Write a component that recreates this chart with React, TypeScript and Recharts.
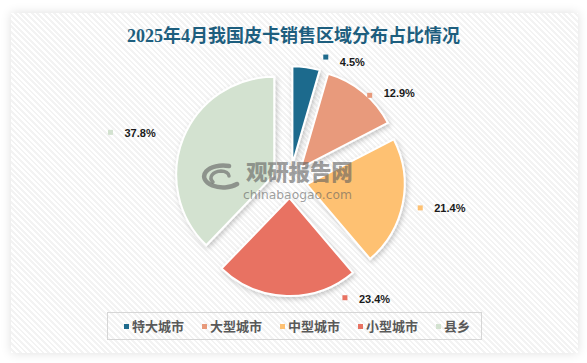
import React from "react";
import { PieChart, Pie, Cell, Sector, Legend, Tooltip } from "recharts";

const categories = ["特大城市", "大型城市", "中型城市", "小型城市", "县乡"];
const shares = [4.5, 12.9, 21.4, 23.4, 37.8];
const colors = ["#1f6b8d", "#e89a7b", "#fec172", "#e87262", "#d3e2d0"];
const TITLE = "2025年4月我国皮卡销售区域分布占比情况";
const WATERMARK_CN = "观研报告网";
const WATERMARK_EN = "chinabaogao.com";

const data = categories.map((name, i) => ({ name, value: shares[i] }));

const W = 587;
const H = 363;
const CX = 290;
const CY = 181;
const R = 98;
const EXPLODE = 17;
// label placement: angular shift (deg, clockwise) and radius of marker, text vertical offset
const LABEL_LAYOUT = [
  { shift: 8, radius: 129, textDy: 5 },
  { shift: 3.5, radius: 117, textDy: -2 },
  { shift: 0.5, radius: 133, textDy: 0 },
  { shift: -27, radius: 129, textDy: 1 },
  { shift: -6.8, radius: 186, textDy: 1 },
];
const LABEL_GAP = 14;

const ExplodedSector = (props: any) => {
  const { cx, cy, midAngle } = props;
  const rad = (-midAngle * Math.PI) / 180;
  return (
    <Sector
      {...props}
      cx={cx + EXPLODE * Math.cos(rad)}
      cy={cy + EXPLODE * Math.sin(rad)}
      filter="url(#sliceShadow)"
    />
  );
};

const renderLabel = (props: any) => {
  const { cx, cy, midAngle, index, value } = props;
  const lay = LABEL_LAYOUT[index];
  const theta = ((90 - midAngle + lay.shift) * Math.PI) / 180;
  const mx = cx + lay.radius * Math.sin(theta);
  const my = cy - lay.radius * Math.cos(theta);
  return (
    <g key={`lbl-${index}`}>
      <rect x={mx - 2.5} y={my - 2.5} width={5} height={5} fill={colors[index]} />
      <text
        x={mx + LABEL_GAP}
        y={my + lay.textDy}
        dominantBaseline="central"
        fontFamily="'Liberation Sans', Arial, sans-serif"
        fontWeight="bold"
        fontSize={11}
        fill="#1a1a1a"
      >
        {`${Number(value).toFixed(1)}%`}
      </text>
    </g>
  );
};

const LegendContent = (props: any) => {
  const payload = [...(props.payload || [])].sort(
    (a: any, b: any) => categories.indexOf(a.value) - categories.indexOf(b.value)
  );
  return (
    <div
      style={{
        boxSizing: "border-box",
        width: 375,
        height: 28,
        border: "1px solid #d6d6d6",
        display: "flex",
        alignItems: "center",
        paddingLeft: 16,
        gap: 18,
      }}
    >
      {payload.map((p: any, i: number) => (
        <div key={i} style={{ display: "flex", alignItems: "center" }}>
          <span
            style={{
              display: "inline-block",
              width: 5,
              height: 5,
              background: colors[categories.indexOf(p.value)] ?? p.color,
              marginRight: 3,
            }}
          />
          <span
            style={{
              fontFamily: "'Noto Sans CJK SC', sans-serif",
              fontWeight: 700,
              fontSize: 13,
              color: "#595959",
              lineHeight: "14px",
            }}
          >
            {p.value}
          </span>
        </div>
      ))}
    </div>
  );
};

export default function App() {
  const wmColor = "rgba(95,95,95,0.6)";
  return (
    <div
      style={{
        position: "absolute",
        left: 0,
        top: 0,
        width: W,
        height: H,
        background: "#ffffff",
        overflow: "hidden",
      }}
    >
      <svg width={0} height={0} style={{ position: "absolute" }}>
        <defs>
          <filter id="sliceShadow" x="-20%" y="-20%" width="140%" height="140%">
            <feDropShadow dx="1.5" dy="2" stdDeviation="2.5" floodColor="#000" floodOpacity="0.22" />
          </filter>
        </defs>
      </svg>
      <div
        style={{
          position: "absolute",
          left: 11,
          top: 13,
          width: 567,
          height: 340,
          boxShadow: "0 0 10px rgba(0,0,0,0.13)",
          background:
            "repeating-linear-gradient(45deg, #ffffff 0px, #ffffff 2px, #f3f3f3 2px, #f3f3f3 4px)",
        }}
      />
      <div
        style={{
          position: "absolute",
          left: 0,
          top: 25,
          width: W,
          textAlign: "center",
          fontFamily: "'Liberation Serif', 'Noto Sans CJK SC', serif",
          fontWeight: 700,
          fontSize: 18,
          lineHeight: "22px",
          color: "#1d5e7e",
        }}
      >
        {TITLE}
      </div>
      <div style={{ position: "absolute", left: 0, top: 0 }}>
        <PieChart width={W} height={H} margin={{ top: 0, right: 0, bottom: 0, left: 0 }}>
          <Pie
            data={data}
            dataKey="value"
            nameKey="name"
            cx={CX}
            cy={CY}
            outerRadius={R}
            startAngle={90}
            endAngle={-270}
            stroke="#ffffff"
            strokeWidth={2}
            isAnimationActive={false}
            labelLine={false}
            label={renderLabel}
            shape={ExplodedSector}
            activeShape={ExplodedSector}
            inactiveShape={ExplodedSector}
          >
            {data.map((d, i) => (
              <Cell key={d.name} fill={colors[i]} />
            ))}
          </Pie>
          <Tooltip defaultIndex={0} content={() => null} cursor={false} />
          <Legend
            content={<LegendContent />}
            wrapperStyle={{ position: "absolute", left: 107, top: 312, width: 375, height: 28, bottom: "auto" }}
          />
        </PieChart>
      </div>
      <svg
        width={44}
        height={28}
        style={{ position: "absolute", left: 199, top: 162, pointerEvents: "none" }}
      >
        <g fill="none" stroke={wmColor} strokeLinecap="round">
          <path d="M 30 4 A 19 11 0 1 0 38 22" strokeWidth={4.5} />
          <path d="M 14 20 A 11 7 0 0 1 22 9 A 8 5 0 0 1 30 14" strokeWidth={3.5} />
        </g>
      </svg>
      <div
        style={{
          position: "absolute",
          left: 246,
          top: 160,
          pointerEvents: "none",
          color: wmColor,
          fontFamily: "'Noto Sans CJK SC', sans-serif",
          fontWeight: 900,
          fontSize: 21.5,
          lineHeight: "22px",
          letterSpacing: -0.2,
          whiteSpace: "nowrap",
        }}
      >
        {WATERMARK_CN}
      </div>
      <div
        style={{
          position: "absolute",
          left: 243,
          top: 189,
          pointerEvents: "none",
          color: wmColor,
          fontFamily: "'DejaVu Sans', sans-serif",
          fontSize: 12.3,
          lineHeight: "12px",
          whiteSpace: "nowrap",
        }}
      >
        {WATERMARK_EN}
      </div>
    </div>
  );
}
